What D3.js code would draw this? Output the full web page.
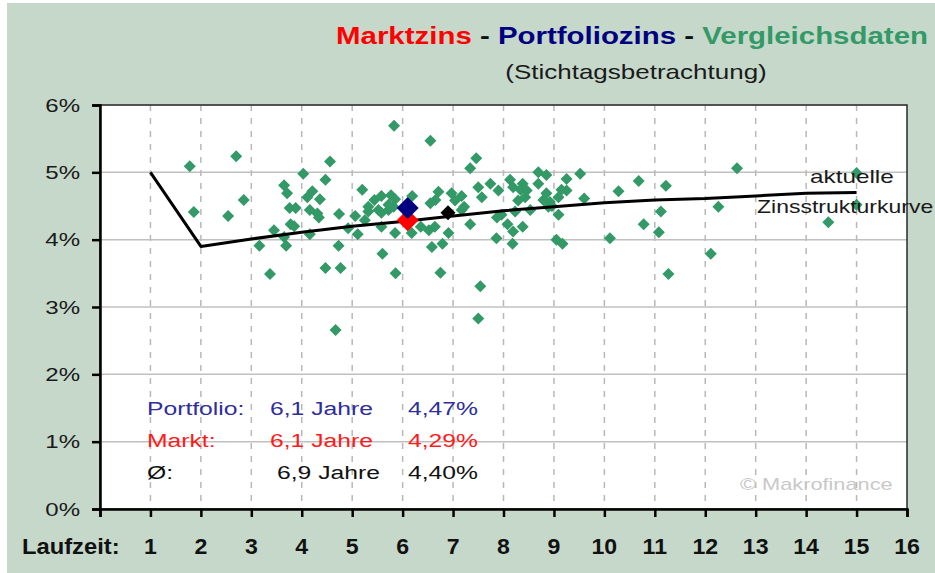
<!DOCTYPE html>
<html>
<head>
<meta charset="utf-8">
<script src="https://cdn.jsdelivr.net/npm/d3@7"></script>
<style>
    html, body { margin: 0; padding: 0; background: #ffffff; }
    svg { display: block; }
    text { font-family: "Liberation Sans", Arial, sans-serif; }
</style>
</head>
<body>
<div id="chart"></div>
<script>
// Zinsstrukturkurve (Laufzeit in Jahren, Zins in %)
const curveYears = [1, 2, 3, 4, 5, 6, 7, 8, 9, 10, 11, 12, 13, 14, 15];
const curveRates = [5.00, 3.90, 4.01, 4.11, 4.20, 4.27, 4.35, 4.43, 4.49, 4.55, 4.59, 4.61, 4.65, 4.69, 4.70];

// Vergleichsdaten
const peerYears = [
    1.78, 2.70, 1.86, 2.54, 2.85, 3.16, 3.37, 3.45, 3.65, 3.71,
    3.76, 3.88, 3.78, 3.85, 3.65, 3.69, 4.03, 4.21, 4.11, 4.36,
    4.16, 4.31, 4.34, 4.16, 4.47, 4.56, 4.47, 4.77, 4.73, 4.74,
    4.67, 5.83, 6.55, 7.46, 7.34, 5.20, 4.92, 5.11, 5.06, 5.25,
    5.32, 5.44, 5.58, 5.77, 5.85, 5.52, 5.58, 5.72, 5.82, 5.58,
    5.85, 5.60, 5.86, 6.19, 6.18, 6.36, 6.55, 6.52, 6.64, 6.58,
    6.79, 6.75, 6.71, 6.65, 6.91, 6.97, 7.04, 7.17, 7.22, 7.17,
    7.50, 7.57, 7.74, 7.90, 7.34, 7.87, 7.86, 7.54, 7.50, 5.32,
    5.72, 8.13, 8.19, 8.38, 8.34, 8.46, 8.29, 8.23, 8.53, 7.96,
    8.08, 8.19, 8.38, 8.18, 8.69, 8.85, 8.69, 9.25, 9.52, 8.85,
    8.79, 8.92, 8.89, 9.15, 9.25, 9.09, 8.96, 9.60, 9.09, 9.05,
    9.17, 10.11, 10.28, 10.68, 10.78, 11.12, 11.08, 11.22, 11.27, 8.43,
    12.63, 12.26, 12.11, 14.44, 15.00, 15.00
];
const peerRates = [
    5.09, 5.24, 4.41, 4.35, 4.59, 3.91, 3.49, 4.14, 4.81, 4.69,
    4.47, 4.47, 4.23, 4.20, 4.04, 3.91, 4.98, 4.72, 4.63, 4.60,
    4.44, 4.39, 4.33, 4.08, 4.89, 5.16, 3.58, 3.58, 3.91, 4.38,
    2.66, 5.69, 5.47, 5.21, 5.06, 4.74, 4.17, 4.08, 4.35, 4.29,
    4.42, 4.59, 4.65, 4.66, 4.60, 4.44, 4.40, 4.44, 4.49, 4.19,
    4.10, 3.79, 3.50, 4.65, 4.10, 4.19, 4.54, 4.14, 4.19, 3.89,
    3.94, 3.51, 4.71, 4.59, 4.10, 4.69, 4.58, 4.65, 4.49, 4.44,
    4.78, 4.63, 4.83, 4.73, 4.23, 4.33, 4.02, 3.31, 2.83, 4.49,
    4.52, 4.89, 4.78, 4.83, 4.74, 4.73, 4.58, 4.42, 4.44, 4.37,
    4.23, 4.12, 4.19, 3.94, 5.00, 4.96, 4.83, 4.90, 4.98, 4.69,
    4.59, 4.56, 4.49, 4.74, 4.73, 4.63, 4.50, 4.61, 4.37, 4.00,
    3.94, 4.02, 4.72, 4.87, 4.23, 4.42, 4.11, 4.80, 3.49, 4.63,
    5.06, 4.49, 3.79, 4.26, 4.52, 4.99
];

// Markt, Portfolio, Durchschnitt
const markerNames = ["Markt", "Portfolio", "Ø"];
const markerYears = [6.1, 6.1, 6.9];
const markerRates = [4.29, 4.47, 4.40];
const markerColors = ["#ff0000", "#000080", "#000000"];

// Legende im Diagramm
const legendLabels = ["Portfolio:", "Markt:", "Ø:"];
const legendYears = ["6,1 Jahre", "6,1 Jahre", "6,9 Jahre"];
const legendRates = ["4,47%", "4,29%", "4,40%"];
const legendColors = ["#2e2e9c", "#ff1a1a", "#111111"];

const yTicks = [0, 1, 2, 3, 4, 5, 6];
const xTicks = [1, 2, 3, 4, 5, 6, 7, 8, 9, 10, 11, 12, 13, 14, 15, 16];

const width = 935;
const height = 573;
const plot = {left: 100, right: 907, top: 105, bottom: 509};

const svg = d3.select("#chart").append("svg")
    .attr("width", width)
    .attr("height", height);

// background
svg.append("rect")
    .attr("x", 7)
    .attr("y", 3)
    .attr("width", width - 7)
    .attr("height", height - 3)
    .attr("fill", "#c5d8ca");

svg.append("rect")
    .attr("x", plot.left)
    .attr("y", plot.top)
    .attr("width", plot.right - plot.left)
    .attr("height", plot.bottom - plot.top)
    .attr("fill", "#ffffff");

const x = d3.scaleLinear()
    .domain([0, 16])
    .range([plot.left, plot.right]);

const y = d3.scaleLinear()
    .domain([0, 6])
    .range([plot.bottom, plot.top]);

// text with horizontal stretch like the original bitmap
function addText(parent, px, py, str, opts) {
    const o = Object.assign({size: 18, sx: 1.3, anchor: "start", weight: "normal", fill: "#111"}, opts);
    return parent.append("text")
        .attr("transform", `translate(${px}, ${py}) scale(${o.sx}, 1)`)
        .attr("text-anchor", o.anchor)
        .attr("font-size", o.size)
        .attr("font-weight", o.weight)
        .attr("fill", o.fill)
        .text(str);
}

function diamond(r) {
    return `M0,${-r}L${r},0L0,${r}L${-r},0Z`;
}

// grid
svg.append("g")
    .selectAll("line")
    .data(yTicks.slice(1))
    .enter()
    .append("line")
    .attr("x1", plot.left)
    .attr("x2", plot.right)
    .attr("y1", d => y(d))
    .attr("y2", d => y(d))
    .attr("stroke", "#c0c0c0")
    .attr("stroke-width", 1.5);

svg.append("g")
    .selectAll("line")
    .data(xTicks.slice(0, -1))
    .enter()
    .append("line")
    .attr("x1", d => x(d))
    .attr("x2", d => x(d))
    .attr("y1", plot.top)
    .attr("y2", plot.bottom)
    .attr("stroke", "#b8b8b8")
    .attr("stroke-width", 1.5)
    .attr("stroke-dasharray", "6,7");

// copyright
addText(svg, 740, 490, "© Makrofinance", {size: 17, sx: 1.28, fill: "#c8c8c8"});

// peer points
const peers = peerYears.map((d, i) => ({year: d, rate: peerRates[i]}));

svg.append("g")
    .selectAll("path")
    .data(peers)
    .enter()
    .append("path")
    .attr("transform", d => `translate(${x(d.year)}, ${y(d.rate)})`)
    .attr("d", diamond(6))
    .attr("fill", "#339966");

// current yield curve
const curve = curveYears.map((d, i) => ({year: d, rate: curveRates[i]}));

svg.append("path")
    .datum(curve)
    .attr("fill", "none")
    .attr("stroke", "#000")
    .attr("stroke-width", 3)
    .attr("stroke-linejoin", "round")
    .attr("d", d3.line()
        .x(d => x(d.year))
        .y(d => y(d.rate))
    );

// market, portfolio, average markers
const markerSizes = [11, 11, 7.5];
svg.append("g")
    .selectAll("path")
    .data(markerNames)
    .enter()
    .append("path")
    .attr("transform", (d, i) => `translate(${x(markerYears[i])}, ${y(markerRates[i])})`)
    .attr("d", (d, i) => diamond(markerSizes[i]))
    .attr("fill", (d, i) => markerColors[i]);

// frame and axes
svg.append("rect")
    .attr("x", plot.left)
    .attr("y", plot.top)
    .attr("width", plot.right - plot.left)
    .attr("height", plot.bottom - plot.top)
    .attr("fill", "none")
    .attr("stroke", "#2a2a2a")
    .attr("stroke-width", 1.5);

const yAxis = svg.append("g")
    .attr("transform", `translate(${plot.left}, 0)`)
    .call(d3.axisLeft(y).tickValues(yTicks).tickSize(8).tickFormat(""));

const xAxis = svg.append("g")
    .attr("transform", `translate(0, ${plot.bottom})`)
    .call(d3.axisBottom(x).tickValues(d3.range(0, 17)).tickSize(8).tickFormat(""));

[yAxis, xAxis].forEach(a => {
    a.selectAll("path, line")
        .attr("stroke", "#000")
        .attr("stroke-width", 2.5);
});

// y labels
yTicks.forEach(t => {
    addText(svg, 80, y(t) + 6.5, t + "%", {size: 18.5, sx: 1.3, anchor: "end", fill: "#1a1a1a"});
});

// x labels
xTicks.forEach(t => {
    addText(svg, x(t), 554, t, {size: 22, sx: 1.05, anchor: "middle", weight: "bold", fill: "#111"});
});
addText(svg, 22, 554, "Laufzeit:", {size: 22, sx: 1.08, weight: "bold", fill: "#111"});

// curve label
addText(svg, 810, 183, "aktuelle", {size: 19, sx: 1.28, fill: "#1a1a1a"});
addText(svg, 757, 213, "Zinsstrukturkurve", {size: 19, sx: 1.21, fill: "#1a1a1a"});

// legend block
legendLabels.forEach((label, i) => {
    const by = 415 + i * 32;
    addText(svg, 147, by, label, {size: 19, sx: 1.3, fill: legendColors[i]});
    addText(svg, i === 2 ? 277 : 270, by, legendYears[i], {size: 19, sx: 1.3, fill: legendColors[i]});
    addText(svg, 408, by, legendRates[i], {size: 19, sx: 1.3, fill: legendColors[i]});
});

// title
const title = svg.append("text")
    .attr("transform", "translate(632, 44) scale(1.28, 1)")
    .attr("text-anchor", "middle")
    .attr("font-size", 23)
    .attr("font-weight", "bold");
title.append("tspan").attr("fill", "#ff0000").text("Marktzins");
title.append("tspan").attr("fill", "#111").text(" - ");
title.append("tspan").attr("fill", "#000080").text("Portfoliozins");
title.append("tspan").attr("fill", "#111").text(" - ");
title.append("tspan").attr("fill", "#339966").text("Vergleichsdaten");

addText(svg, 636, 79, "(Stichtagsbetrachtung)", {size: 20, sx: 1.3, anchor: "middle", fill: "#1a1a1a"});
</script>
</body>
</html>
